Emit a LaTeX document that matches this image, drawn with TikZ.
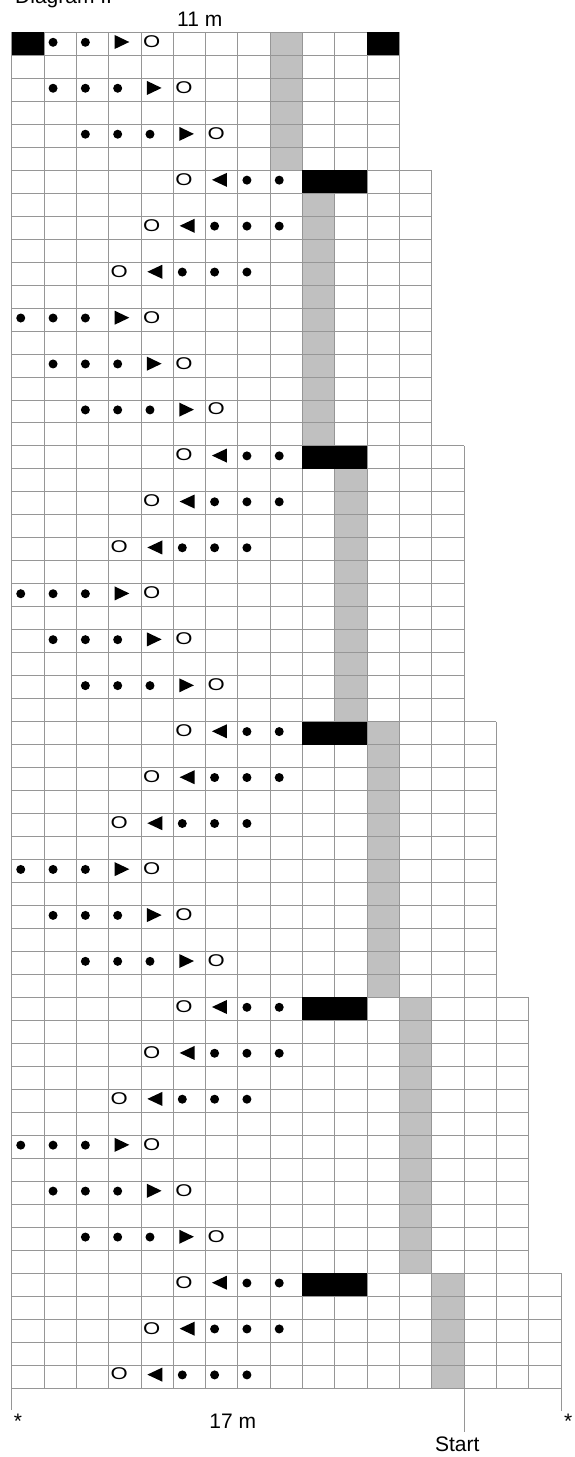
\documentclass[tikz,border=0pt]{standalone}
\usepackage{fontspec}
\setmainfont{Liberation Sans}
\usepackage{graphicx}
\definecolor{gridc}{RGB}{150,150,150}
\definecolor{shadec}{RGB}{192,192,192}
\tikzset{
  gridline/.style={draw=gridc, line width=0.8pt},
  lbl/.style={font=\fontsize{21}{24}\selectfont, inner sep=0pt},
  otext/.style={font=\fontsize{17}{19}\selectfont, inner sep=0pt},
  tick/.style={draw=gridc, line width=0.8pt},
}
\newcommand\kDot[2]{\fill[black] ({#1+0.28},{#2+0.435}) circle[radius=4.5pt];}
\newcommand\kTriR[2]{\fill[black] ({#1+0.186},{#2+0.117}) -- ({#1+0.186},{#2+0.727}) -- ({#1+0.64},{#2+0.422}) -- cycle;}
\newcommand\kTriL[2]{\fill[black] ({#1+0.66},{#2+0.117}) -- ({#1+0.66},{#2+0.727}) -- ({#1+0.198},{#2+0.422}) -- cycle;}
\newcommand\kO[2]{\node[otext] (o-#2-#1) at ({#1+0.33},{#2+0.40}) {\scalebox{1.3}[1]{O}};}
% right run: dots a,a+1,a+2, right triangle a+3, O a+4
\newcommand\kRR[2]{\kDot{#1}{#2}\kDot{#1+1}{#2}\kDot{#1+2}{#2}\kTriR{#1+3}{#2}\kO{#1+4}{#2}}
\begin{document}
\begin{tikzpicture}
\useasboundingbox (0,0) rectangle (575pt,-1457pt);
% labels
\node[lbl, anchor=base west] (title) at (15pt,-3pt) {Diagram II};
\node[lbl, anchor=base] (top) at (199.7pt,-26.7pt) {11 m};
\node[lbl, anchor=base] (bottom) at (232.7pt,-1428.3pt) {17 m};
\node[lbl, anchor=base] (start) at (457.3pt,-1451.7pt) {Start};
\node[lbl, anchor=base] (astl) at (18pt,-1428.5pt) {*};
\node[lbl, anchor=base] (astr) at (568.3pt,-1428.5pt) {*};
\begin{scope}[shift={(11.7pt,-32.3pt)}, x=32.31pt, y=-22.976pt]
  % gray columns
  \fill[shadec] (8,0) rectangle (9,6);
  \fill[shadec] (9,7) rectangle (10,18);
  \fill[shadec] (10,19) rectangle (11,30);
  \fill[shadec] (11,30) rectangle (12,42);
  \fill[shadec] (12,42) rectangle (13,54);
  \fill[shadec] (13,54) rectangle (14,59);
  % grid
  \foreach \s/\e/\n in {0/6/12, 6/18/13, 18/30/14, 30/42/15, 42/54/16, 54/59/17} {
    \foreach \r in {\s,...,\e} \draw[gridline] (0,\r) -- (\n,\r);
    \foreach \c in {0,...,\n} \draw[gridline] (\c,\s) -- (\c,\e);
  }
  % black cells
  \fill[black] (0,0) rectangle (1,1);
  \fill[black] (11,0) rectangle (12,1);
  \foreach \r in {6,18,30,42,54} \fill[black] (9,\r) rectangle (11,\r+1);
  % ticks below the grid
  \coordinate (bl) at (0,59);
  \coordinate (br) at (17,59);
  \coordinate (bs) at (14,59);
  \draw[tick] (bl) -- ++(0pt,-22.4pt);
  \draw[tick] (br) -- ++(0pt,-22.7pt);
  \draw[tick] (bs) -- ++(0pt,-44pt);
  % top rows
  \kDot{1}{0}\kDot{2}{0}\kTriR{3}{0}\kO{4}{0}
  \kRR{1}{2}
  \kRR{2}{4}
  % left runs
  \foreach \ra/\rb/\rc in {6/8/10, 18/20/22, 30/32/34, 42/44/46, 54/56/58} {
    \kO{5}{\ra}\kTriL{6}{\ra}\kDot{7}{\ra}\kDot{8}{\ra}
    \kO{4}{\rb}\kTriL{5}{\rb}\kDot{6}{\rb}\kDot{7}{\rb}\kDot{8}{\rb}
    \kO{3}{\rc}\kTriL{4}{\rc}\kDot{5}{\rc}\kDot{6}{\rc}\kDot{7}{\rc}
  }
  % right runs
  \foreach \ra/\rb/\rc in {12/14/16, 24/26/28, 36/38/40, 48/50/52} {
    \kRR{0}{\ra}
    \kRR{1}{\rb}
    \kRR{2}{\rc}
  }
\end{scope}
\end{tikzpicture}
\end{document}
